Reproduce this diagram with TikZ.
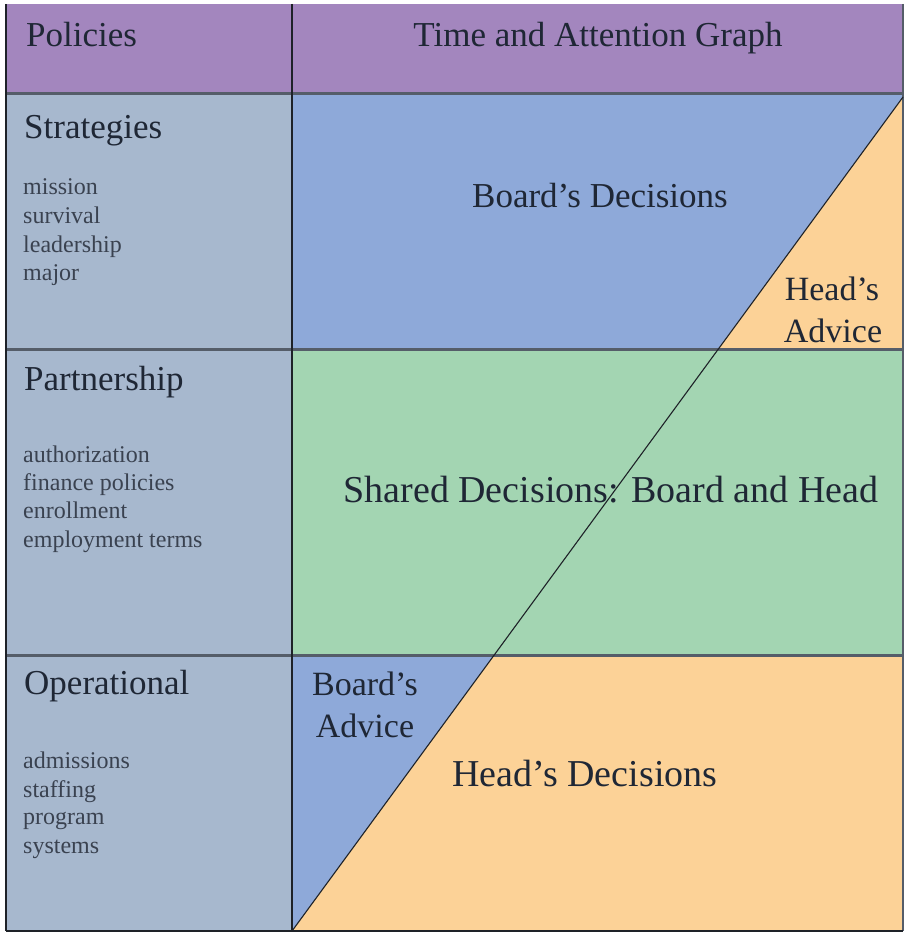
\documentclass[tikz,border=0pt]{standalone}
\usepackage{fontspec}
\setmainfont{Liberation Serif}
\definecolor{hdrpurple}{HTML}{A386BE}
\definecolor{leftcol}{HTML}{A7B8CE}
\definecolor{boardblue}{HTML}{8EA9D9}
\definecolor{sharedgreen}{HTML}{A3D5B2}
\definecolor{headorange}{HTML}{FCD297}
\definecolor{sepgray}{HTML}{555D69}
\definecolor{linedark}{HTML}{1E2228}
\definecolor{txtdark}{HTML}{1F2735}
\definecolor{txtsmall}{HTML}{3A4250}
\tikzset{
  hsep/.style={draw=sepgray, line width=3pt},
  vsep/.style={draw=linedark, line width=1.3pt},
  diag/.style={draw=linedark, line width=1.1pt},
  bigtxt/.style={inner sep=0pt, text=txtdark, font=\fontsize{35}{42}\selectfont},
  hugetxt/.style={inner sep=0pt, text=txtdark, font=\fontsize{38}{44}\selectfont},
  smalltxt/.style={inner sep=0pt, anchor=base west, text=txtsmall, font=\fontsize{24}{28}\selectfont},
}
\begin{document}
\begin{tikzpicture}[x=1pt,y=-1pt]
\useasboundingbox (0,0) rectangle (908,934);
\fill[white] (0,0) rectangle (908,934);
% regions
\fill[hdrpurple] (6,4) rectangle (903,93);
\fill[leftcol] (6,93) rectangle (292,931);
\fill[boardblue] (292,93) rectangle (903,349);
\fill[sharedgreen] (292,349) rectangle (903,655);
\fill[headorange] (292,655) rectangle (903,931);
\coordinate (dA) at (292,931);
\coordinate (dB) at (903,97);
\coordinate (pTop) at (718,349);
\coordinate (pBot) at (494,655);
\fill[headorange] (pTop) -- (903,349) -- (dB) -- cycle;
\fill[boardblue] (292,655) -- (pBot) -- (dA) -- cycle;
% separators
\draw[hsep] (6,93) -- (903,93);
\draw[hsep] (6,349) -- (903,349);
\draw[hsep] (6,655) -- (903,655);
\draw[vsep] (6,4) -- (6,931);
\draw[vsep] (292,4) -- (292,931);
\draw[draw=sepgray, line width=1.3pt] (903,4) -- (903,931);
\draw[vsep] (6,931) -- (903,931);
\draw[diag] (dA) -- (dB);
% header
\node[bigtxt, anchor=base west] (pol) at (26,47) {Policies};
\node[bigtxt, anchor=base] (tag) at (598,47) {Time and Attention Graph};
% left column
\node[bigtxt, anchor=base west] (strat) at (24,138) {Strategies};
\node[smalltxt] (s1) at (23,194) {mission};
\node[smalltxt] (s2) at (23,223) {survival};
\node[smalltxt] (s3) at (23,252) {leadership};
\node[smalltxt] (s4) at (23,280) {major};
\node[bigtxt, anchor=base west] (part) at (24,390) {Partnership};
\node[smalltxt] (p1) at (23,462) {authorization};
\node[smalltxt] (p2) at (23,490) {finance policies};
\node[smalltxt] (p3) at (23,518) {enrollment};
\node[smalltxt] (p4) at (23,547) {employment terms};
\node[bigtxt, anchor=base west] (oper) at (24,694) {Operational};
\node[smalltxt] (o1) at (23,768) {admissions};
\node[smalltxt] (o2) at (23,797) {staffing};
\node[smalltxt] (o3) at (23,824) {program};
\node[smalltxt] (o4) at (23,853) {systems};
% right column labels
\node[bigtxt, anchor=base] (bd) at (600,207) {Board’s Decisions};
\node[bigtxt, anchor=base, font=\fontsize{34}{42}\selectfont] (ha1) at (832,300) {Head’s};
\node[bigtxt, anchor=base, font=\fontsize{34}{42}\selectfont] (ha2) at (833,342) {Advice};
\node[hugetxt, anchor=base] (sd) at (611,502) {Shared Decisions: Board and Head};
\node[bigtxt, anchor=base, font=\fontsize{34}{42}\selectfont] (ba1) at (365,695) {Board’s};
\node[bigtxt, anchor=base, font=\fontsize{34}{42}\selectfont] (ba2) at (365,737) {Advice};
\node[hugetxt, anchor=base] (hd) at (585,786) {Head’s Decisions};
\end{tikzpicture}
\end{document}
